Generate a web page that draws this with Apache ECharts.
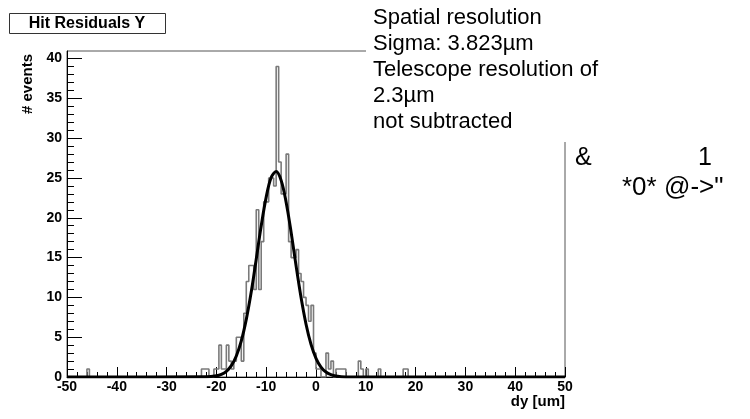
<!DOCTYPE html>
<html>
<head>
<meta charset="utf-8">
<title>Hit Residuals Y</title>
<script src="https://cdn.jsdelivr.net/npm/echarts@6/dist/echarts.min.js"></script>
<style>
  html, body { margin: 0; padding: 0; background: #fff; }
  #chart { width: 750px; height: 419px; }
</style>
</head>
<body>
<div id="chart"></div>
<script>
// histogram: 0.5 um bins from -50 to 50, only non-empty bins listed (lower edge -> entries)
const binWidth = 0.5
const histMin = -50
const histMax = 50
const binLow = [
  -46, -23, -22.5, -22, -20.5, -20, -19.5, -19, -18.5, -18, -17.5, -17, -16.5, -16,
  -15.5, -15, -14.5, -14, -13.5, -13, -12.5, -12, -11.5, -11, -10.5, -10, -9.5, -9,
  -8.5, -8, -7.5, -7, -6.5, -6, -5.5, -5, -4.5, -4, -3.5, -3, -2.5, -2, -1.5, -1,
  -0.5, 0, 0.5, 2, 2.5, 3, 4, 4.5, 5, 5.5, 8.5, 9, 10, 12.5, 17.5, 18
]
const binCount = [
  1, 1, 1, 1, 1, 1, 4, 1, 1, 4, 2, 1, 2, 5,
  5, 2, 8, 12, 14, 14, 11, 21, 11, 17, 22, 22, 25, 25,
  24, 39, 27, 23, 23, 28, 17, 15, 15, 16, 13, 12, 10, 9, 7, 9,
  3, 1, 1, 3, 1, 2, 1, 1, 1, 1, 2, 1, 1, 1, 1, 1
]

// gaussian fit curve
const fitX = [-50, -22, -20, -19, -18, -17, -16, -15, -14, -13, -12, -11, -10, -9, -8,
  -7, -6, -5, -4, -3, -2, -1, 0, 1, 2, 3, 4, 6, 50]
const fitY = [0, 0.02, 0.15, 0.34, 0.72, 1.43, 2.64, 4.53, 7.24, 10.7, 14.8, 19.0, 22.6, 25.05, 25.8,
  24.7, 21.96, 18.2, 13.96, 9.98, 6.63, 4.09, 2.35, 1.25, 0.62, 0.29, 0.12, 0.01, 0]

const xTicks = [-50, -40, -30, -20, -10, 0, 10, 20, 30, 40, 50]
const yTicks = [0, 5, 10, 15, 20, 25, 30, 35, 40]
const yMax = 40.95 // ROOT: 1.05 x highest bin

const statsLines = [
  'Spatial resolution',
  'Sigma: 3.823\u00b5m',
  'Telescope resolution of',
  '2.3\u00b5m',
  'not subtracted'
]

const font = '"Liberation Sans", Arial, Helvetica, sans-serif'

// step-line points, one per bin edge
const histData = []
const nBins = Math.round((histMax - histMin) / binWidth)
for (let i = 0; i <= nBins; i++) {
  const x = histMin + i * binWidth
  const k = binLow.indexOf(x)
  histData.push([x, i < nBins && k >= 0 ? binCount[k] : 0])
}
const fitData = fitX.map((x, i) => [x, fitY[i]])

// minor y ticks every unit
const yMinor = []
for (let v = 1; v < 40; v++) if (v % 5) yMinor.push(v)

const chart = echarts.init(document.getElementById('chart'), null, { renderer: 'canvas' })

const labelStyle = { color: '#000', fontFamily: font, fontWeight: 'bold', fontSize: 14 }
const tickStyle = { color: '#000', width: 1 }

chart.setOption({
  animation: false,
  backgroundColor: '#fff',
  grid: {
    left: 67, right: 185, top: 51, bottom: 42,
    show: true, borderColor: '#555', borderWidth: 1, backgroundColor: 'transparent'
  },
  xAxis: {
    type: 'value',
    min: xTicks[0],
    max: xTicks[xTicks.length - 1],
    interval: xTicks[1] - xTicks[0],
    axisLine: { show: true, onZero: false, lineStyle: { color: '#000', width: 1 } },
    splitLine: { show: false },
    axisTick: { show: true, inside: true, length: 10, lineStyle: tickStyle },
    minorTick: { show: true, splitNumber: 5, length: 5, lineStyle: tickStyle },
    axisLabel: { ...labelStyle, margin: 3 }
  },
  yAxis: [
    {
      type: 'value',
      position: 'left',
      min: 0,
      max: yMax,
      axisLine: { show: true, onZero: false, lineStyle: { color: '#000', width: 1 } },
      splitLine: { show: false },
      axisTick: { show: true, inside: true, length: 15, lineStyle: tickStyle, customValues: yTicks },
      axisLabel: { ...labelStyle, margin: 5, customValues: yTicks }
    },
    {
      // minor ticks only
      type: 'value',
      position: 'left',
      min: 0,
      max: yMax,
      axisLine: { show: false, onZero: false },
      splitLine: { show: false },
      axisTick: { show: true, inside: true, length: 7, lineStyle: tickStyle, customValues: yMinor },
      axisLabel: { show: false }
    }
  ],
  series: [
    {
      name: 'Hit Residuals Y',
      type: 'line',
      step: 'end',
      data: histData,
      symbol: 'none',
      lineStyle: { color: '#7a7a7a', width: 1.6 },
      z: 2
    },
    {
      name: 'fit',
      type: 'line',
      data: fitData,
      smooth: 0.35,
      symbol: 'none',
      lineStyle: { color: '#000', width: 3 },
      z: 3
    }
  ],
  graphic: [
    // white stats pave hides the frame corner
    { type: 'rect', left: 366, top: 0, shape: { width: 384, height: 142 }, style: { fill: '#fff' }, z: 50 },
    {
      type: 'text', left: 373, top: 5, z: 51,
      style: { text: statsLines.join('\n'), font: '22px ' + font, lineHeight: 26, fill: '#000' }
    },
    { type: 'text', left: 575, top: 146, z: 51, style: { text: '&', font: '25px ' + font, fill: '#000' } },
    { type: 'text', left: 698, top: 146, z: 51, style: { text: '1', font: '25px ' + font, fill: '#000' } },
    { type: 'text', left: 622, top: 175, z: 51, style: { text: '*0*', font: '26px ' + font, fill: '#000' } },
    { type: 'text', left: 664, top: 175, z: 51, style: { text: '@->"', font: '26px ' + font, fill: '#000' } },
    // title box
    {
      type: 'rect', left: 9, top: 13, z: 51,
      shape: { width: 156, height: 20 },
      style: { fill: '#fff', stroke: '#333', lineWidth: 1 }
    },
    {
      type: 'text', x: 87, y: 24, z: 52,
      style: {
        text: 'Hit Residuals Y', font: 'bold 16px ' + font, fill: '#000',
        textAlign: 'center', textVerticalAlign: 'middle'
      }
    },
    {
      type: 'text', x: 28, y: 84, rotation: Math.PI / 2, z: 52,
      style: {
        text: '# events', font: 'bold 15px ' + font, fill: '#000',
        textAlign: 'center', textVerticalAlign: 'middle'
      }
    },
    {
      type: 'text', x: 565, y: 394, z: 52,
      style: {
        text: 'dy [um]', font: 'bold 15px ' + font, fill: '#000',
        textAlign: 'right', textVerticalAlign: 'top'
      }
    }
  ]
})

window.addEventListener('resize', () => chart.resize())
</script>
</body>
</html>
